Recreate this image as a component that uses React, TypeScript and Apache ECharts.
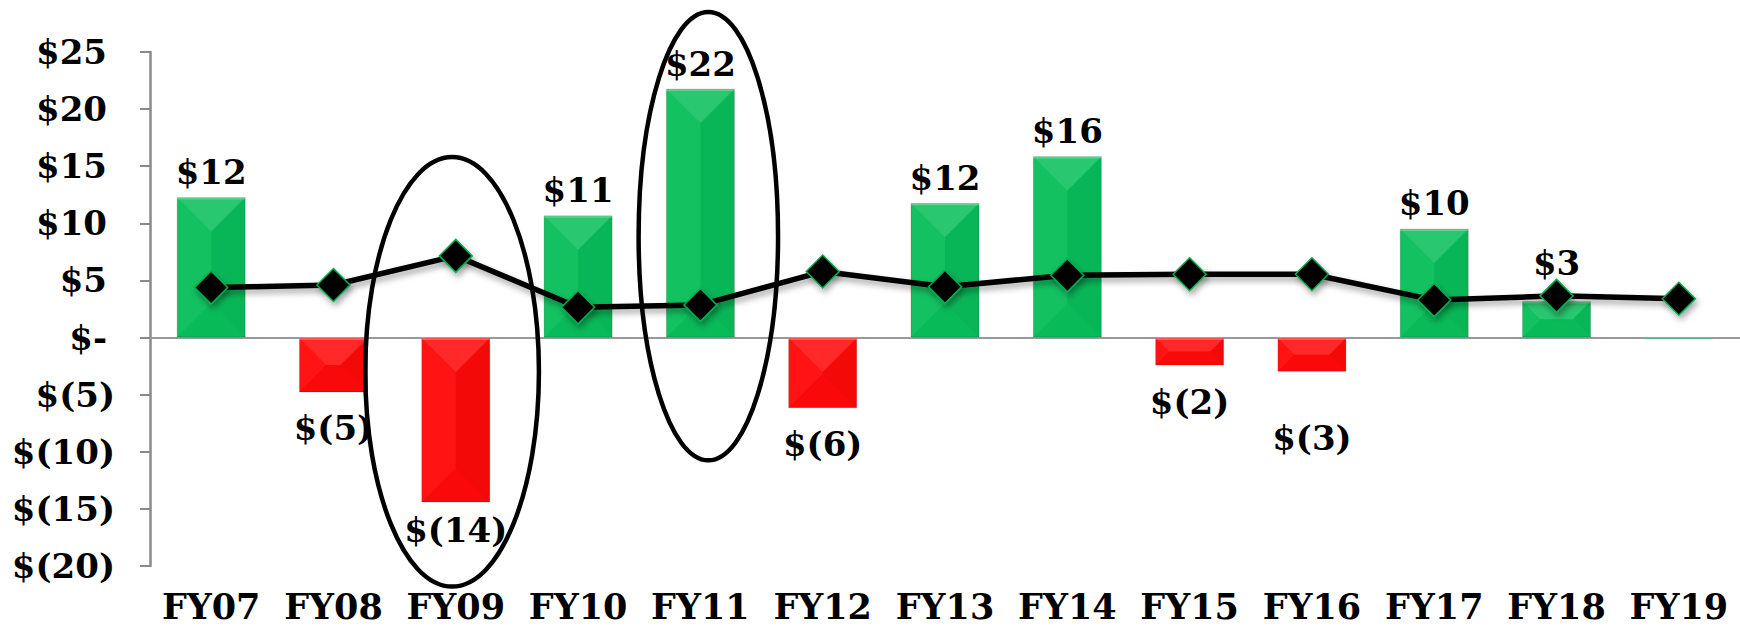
import React, { useEffect, useRef } from "react";
import * as echarts from "echarts";

const categories = ["FY07", "FY08", "FY09", "FY10", "FY11", "FY12", "FY13", "FY14", "FY15", "FY16", "FY17", "FY18", "FY19"];
const netValues = [12.3, -4.8, -14.45, 10.7, 21.8, -6.2, 11.8, 15.9, -2.45, -3.0, 9.55, 3.2, -0.15];
const trendValues = [4.38, 4.6, 7.15, 2.65, 2.86, 5.78, 4.44, 5.46, 5.54, 5.54, 3.28, 3.65, 3.4];
const yMin = -20;
const yMax = 25;
const yStep = 5;
// highlighted categories (ellipse extents in data units)
const highlightCats = ["FY09", "FY11"];
const highlightTop = [15.8, 28.5];
const highlightBottom = [-21.8, -10.75];

// layout / style config
const ellipseHalfWidth = [0.71, 0.57];
const ellipseShift = [-0.03, 0.065];
const labelNudge: Record<string, number> = { FY09: -9, FY16: 30, FY18: 13 };
const BAR_W = 69;
const FONT = "Georgia, 'DejaVu Serif', serif";
const GREEN = "#0abf5b";
const RED = "#ff0a0a";

const fmtVal = (v: number) =>
  v >= 0.5 ? "$" + Math.round(v) : v <= -0.5 ? "$(" + Math.round(-v) + ")" : "";

export default function App() {
  const ref = useRef<HTMLDivElement>(null);
  useEffect(() => {
    const chart = echarts.init(ref.current!, null, { renderer: "svg" });
    const barData = netValues.map((v, i) => {
      const pos = v >= 0 ? "top" : "bottom";
      const base = v >= 0 ? 8 : 19;
      return {
        value: v,
        itemStyle: { color: v > -0.5 ? GREEN : RED },
        label: { position: pos, distance: base + (labelNudge[categories[i]] || 0) },
      };
    });
    const option: any = {
      animation: false,
      grid: { left: 150, right: 0, top: 52, bottom: 66 },
      xAxis: {
        type: "category",
        data: categories,
        axisLine: { show: false },
        axisTick: { show: false },
        axisLabel: {
          interval: 0,
          hideOverlap: false,
          margin: 23,
          fontFamily: FONT,
          fontWeight: "bold",
          fontSize: 35,
          color: "#000",
        },
      },
      yAxis: {
        type: "value",
        min: yMin,
        max: yMax,
        interval: yStep,
        splitLine: { show: false },
        axisLine: { show: true, lineStyle: { color: "#8a8a8a", width: 2.5 } },
        axisTick: { show: true, inside: false, length: 10, lineStyle: { color: "#8a8a8a", width: 2 } },
        axisLabel: {
          margin: 35,
          fontFamily: FONT,
          fontWeight: "bold",
          fontSize: 34,
          color: "#000",
          formatter: (v: number) => {
            if (v < 0) return "$(" + -v + ")";
            return "{p|" + (v === 0 ? "$-" : "$" + v) + "}";
          },
          rich: {
            p: {
              fontFamily: FONT,
              fontWeight: "bold",
              fontSize: 34,
              color: "#000",
              padding: [0, 8, 0, 0],
            },
          },
        },
      },
      series: [
        {
          type: "bar",
          data: barData,
          barWidth: BAR_W,
          z: 2,
          itemStyle: { borderColor: "rgba(0,0,0,0.15)", borderWidth: 1 },
          label: {
            show: true,
            fontFamily: FONT,
            fontWeight: "bold",
            fontSize: 34,
            color: "#000",
            formatter: (p: any) => fmtVal(p.value),
          },
          markLine: {
            silent: true,
            symbol: "none",
            label: { show: false },
            lineStyle: { color: "#999", width: 2, type: "solid" },
            data: [{ yAxis: 0 }],
            z: 1,
          },
        },
        {
          type: "custom",
          z: 3,
          silent: true,
          data: netValues.map((v, i) => [i, v]),
          encode: { x: 0, y: 1 },
          renderItem: (params: any, api: any) => {
            const i = api.value(0);
            const v = api.value(1);
            const a = api.coord([i, v]);
            const b = api.coord([i, 0]);
            const x0 = a[0] - BAR_W / 2;
            const x1 = a[0] + BAR_W / 2;
            const yA = Math.min(a[1], b[1]);
            const yB = Math.max(a[1], b[1]);
            const h = yB - yA;
            const d = Math.min(BAR_W / 2, h / 2);
            const poly = (pts: number[][], fill: string) => ({
              type: "polygon",
              shape: { points: pts },
              style: { fill },
            });
            return {
              type: "group",
              children: [
                poly([[x0, yA], [x0 + d, yA + d], [x0 + d, yB - d], [x0, yB]], "rgba(255,255,255,0.04)"),
                poly([[x1, yA], [x1 - d, yA + d], [x1 - d, yB - d], [x1, yB]], "rgba(0,0,0,0.045)"),
                poly([[x0, yA], [x1, yA], [x1 - d, yA + d], [x0 + d, yA + d]], "rgba(255,255,255,0.13)"),
                poly([[x0, yB], [x1, yB], [x1 - d, yB - d], [x0 + d, yB - d]], "rgba(0,0,0,0.025)"),
                {
                  type: "rect",
                  shape: { x: x0, y: yA, width: BAR_W, height: Math.min(2.5, h) },
                  style: { fill: "rgba(255,255,255,0.22)" },
                },
              ],
            };
          },
        },
        {
          type: "line",
          data: trendValues,
          z: 4,
          symbol: "diamond",
          symbolSize: 33,
          lineStyle: {
            color: "#000",
            width: 5.5,
            shadowColor: "rgba(0,0,0,0.35)",
            shadowBlur: 6,
            shadowOffsetX: 2,
            shadowOffsetY: 4,
          },
          itemStyle: {
            color: "#000",
            borderColor: "#00b050",
            borderWidth: 1.5,
            shadowColor: "rgba(0,0,0,0.35)",
            shadowBlur: 6,
            shadowOffsetX: 2,
            shadowOffsetY: 4,
          },
        },
      ],
    };
    chart.setOption(option);
    const graphics = highlightCats.map((c, k) => {
      const idx = categories.indexOf(c);
      const pT = chart.convertToPixel({ gridIndex: 0 }, [idx, highlightTop[k]]) as number[];
      const pB = chart.convertToPixel({ gridIndex: 0 }, [idx, highlightBottom[k]]) as number[];
      const pN = chart.convertToPixel({ gridIndex: 0 }, [idx + 1, 0]) as number[];
      const cw = pN[0] - pT[0];
      return {
        type: "ellipse",
        z: 100,
        silent: true,
        shape: {
          cx: pT[0] + ellipseShift[k] * cw,
          cy: (pT[1] + pB[1]) / 2,
          rx: ellipseHalfWidth[k] * cw,
          ry: Math.abs(pB[1] - pT[1]) / 2,
        },
        style: { fill: "none", stroke: "#000", lineWidth: 4.5 },
      };
    });
    chart.setOption({ graphic: graphics });
    return () => chart.dispose();
  }, []);
  return (
    <div
      ref={ref}
      style={{ position: "fixed", left: 0, top: 0, width: 1740, height: 632, background: "#fff" }}
    />
  );
}
